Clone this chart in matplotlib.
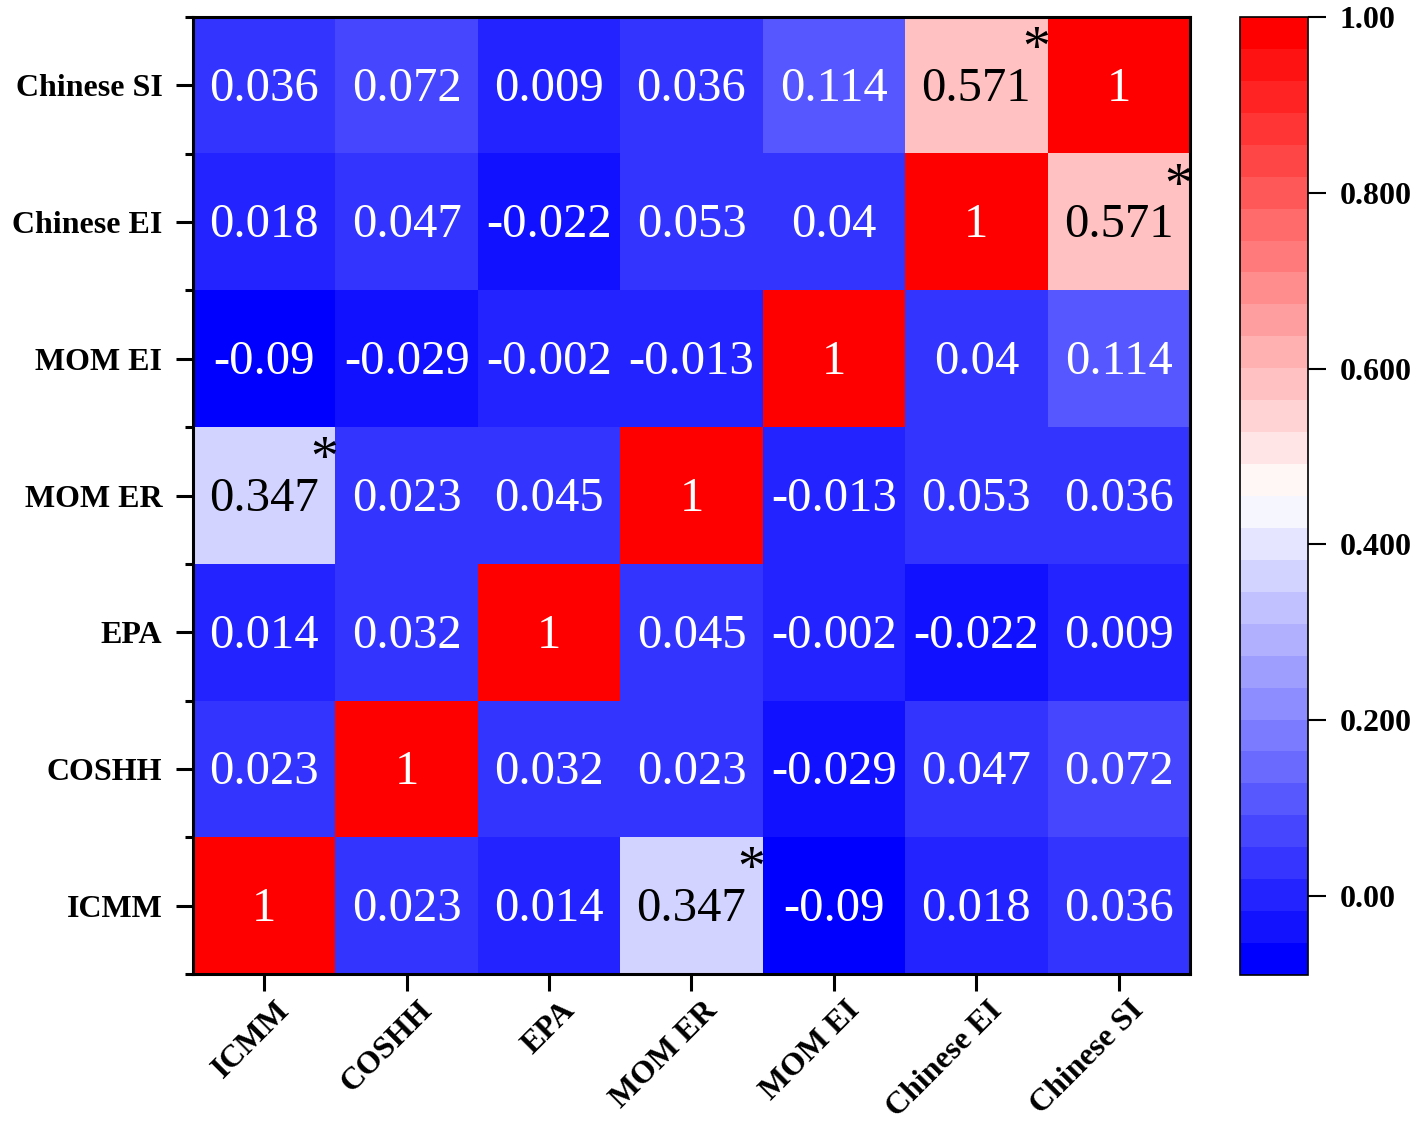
import numpy as np
import matplotlib
matplotlib.use('Agg')
import matplotlib.pyplot as plt
from matplotlib.colors import LinearSegmentedColormap, Normalize
from matplotlib.transforms import ScaledTranslation

# labels, bottom row / left column first
labels = ['ICMM', 'COSHH', 'EPA', 'MOM ER', 'MOM EI', 'Chinese EI', 'Chinese SI']

# correlation matrix (row i, col j in label order)
corr = [
    [1, 0.023, 0.014, 0.347, -0.09, 0.018, 0.036],
    [0.023, 1, 0.032, 0.023, -0.029, 0.047, 0.072],
    [0.014, 0.032, 1, 0.045, -0.002, -0.022, 0.009],
    [0.347, 0.023, 0.045, 1, -0.013, 0.053, 0.036],
    [-0.09, -0.029, -0.002, -0.013, 1, 0.04, 0.114],
    [0.018, 0.047, -0.022, 0.053, 0.04, 1, 0.571],
    [0.036, 0.072, 0.009, 0.036, 0.114, 0.571, 1],
]
# significant pairs (marked with *)
sig_pairs = [('ICMM', 'MOM ER'), ('Chinese EI', 'Chinese SI')]

cbar_ticks = [0.0, 0.2, 0.4, 0.6, 0.8, 1.0]
cbar_ticklabels = ['0.00', '0.200', '0.400', '0.600', '0.800', '1.00']
vmin, vmax = -0.09, 1.0

plt.rcParams['font.family'] = ['Liberation Serif', 'DejaVu Serif']

data = np.array(corr)
n = len(labels)

cmap = LinearSegmentedColormap.from_list('bwr_o', ['#0000ff', '#ffffff', '#ff0000']).resampled(30)
norm = Normalize(vmin=vmin, vmax=vmax)

fig = plt.figure(figsize=(14.17, 11.25), dpi=100)
ax = fig.add_axes([0.1362, 0.1342, 0.7036, 0.8507])
cax = fig.add_axes([0.8751, 0.1333, 0.048, 0.8516])

im = ax.imshow(data, cmap=cmap, norm=norm, origin='lower', aspect='auto')

sig = set()
for a, b in sig_pairs:
    i, j = labels.index(a), labels.index(b)
    sig.add((i, j))
    sig.add((j, i))

for i in range(n):
    for j in range(n):
        v = data[i, j]
        txt = f"{v:g}"
        light = 0.3 < v < 0.7
        ax.text(j, i - 0.025, txt, ha='center', va='center', fontsize=35,
                color='black' if light else 'white')
        if (i, j) in sig:
            ax.text(j + 0.42, i + 0.25, '*', ha='center', va='center',
                    fontsize=40, color='black')

ax.set_xticks(range(n))
ax.set_yticks(range(n))
ax.set_xticklabels(labels, rotation=45, ha='right', va='top',
                   rotation_mode='anchor', fontsize=23, fontweight='bold')
ax.set_yticklabels(labels, fontsize=23, fontweight='bold')
ax.set_yticks(np.arange(-0.5, n, 1), minor=True)
ax.tick_params(axis='y', which='major', direction='out', length=12, width=2.2, pad=10)
ax.tick_params(axis='x', which='major', direction='out', length=12, width=2.2, pad=6)
ax.tick_params(axis='y', which='minor', direction='out', length=6, width=2.2)
ax.tick_params(axis='x', which='minor', length=0)
for s in ax.spines.values():
    s.set_linewidth(2.2)

# nudge rotated x labels to the right like the original
shift = ScaledTranslation(0.11, 0.03, fig.dpi_scale_trans)
for lab in ax.get_xticklabels():
    lab.set_transform(lab.get_transform() + shift)

cb = fig.colorbar(im, cax=cax)
cb.set_ticks(cbar_ticks)
cb.set_ticklabels(cbar_ticklabels)
cb.outline.set_linewidth(1.2)
cax.tick_params(length=13, width=1.5, pad=10)
for t in cax.get_yticklabels():
    t.set_fontsize(23)
    t.set_fontweight('bold')
cax.minorticks_off()

fig.savefig('out.png', dpi=100)
